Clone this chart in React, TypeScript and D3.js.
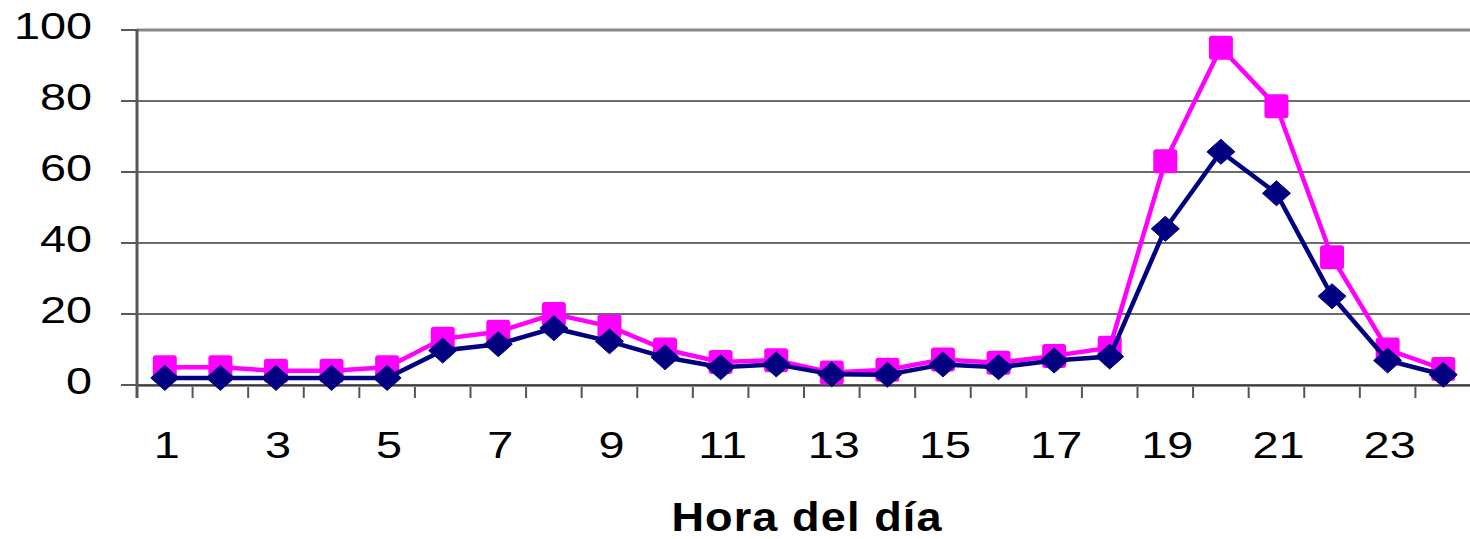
import React from "react";
import * as d3 from "d3";

const hours: number[] = Array.from({ length: 24 }, (_, i) => i + 1);
const seriesPink: number[] = [5, 5, 4, 4, 5, 13, 15, 20, 16.5, 10, 6.5, 7, 3.5, 4.3, 7.2, 6.3, 8.2, 10.5, 63, 95, 78.5, 36, 10, 4.5];
const seriesNavy: number[] = [2, 2, 2, 2, 2, 9.7, 11.5, 16, 12.3, 7.8, 5, 5.8, 3, 2.9, 5.8, 5, 6.9, 8, 44, 65.7, 54, 25, 6.9, 2.9];
const yTicks: number[] = [0, 20, 40, 60, 80, 100];
const xLabels: number[] = [1, 3, 5, 7, 9, 11, 13, 15, 17, 19, 21, 23];
const xTitle = "Hora del día";

const W = 1470;
const H = 539;
const left = 137;
const right = 1471;
const top = 30;
const bottom = 385;
const font = "'Liberation Sans', Arial, sans-serif";
const stretch = 1.3;

export default function App() {
  const x = d3.scaleBand<number>().domain(hours).range([left, right]).padding(0);
  const y = d3.scaleLinear().domain([0, 100]).range([bottom, top]);
  const cx = (h: number) => (x(h) as number) + x.bandwidth() / 2;

  const line = d3
    .line<number>()
    .x((_, i) => cx(hours[i]))
    .y((d) => y(d));

  const boundaries = d3.range(0, 25).map((i) => left + i * x.bandwidth());

  const diamond = (px: number, py: number) => {
    const hw = 14;
    const hh = 12.5;
    return `M${px},${py - hh}L${px + hw},${py}L${px},${py + hh}L${px - hw},${py}Z`;
  };

  return (
    <svg
      width={W}
      height={H}
      style={{ position: "absolute", left: 0, top: 0, background: "#fff" }}
    >
      <rect x={0} y={0} width={W} height={H} fill="#fff" />
      {yTicks
        .filter((t) => t !== 0 && t !== 100)
        .map((t) => (
          <line key={"g" + t} x1={left} x2={right} y1={y(t)} y2={y(t)} stroke="#3a3a3a" strokeWidth={1.5} />
        ))}
      <line x1={left} x2={right} y1={y(100)} y2={y(100)} stroke="#8a8a8a" strokeWidth={3} />
      {yTicks.map((t) => (
        <line key={"yt" + t} x1={121} x2={left} y1={y(t)} y2={y(t)} stroke="#222" strokeWidth={1.5} />
      ))}
      {boundaries.map((b, i) => (
        <line key={"xt" + i} x1={b} x2={b} y1={bottom} y2={bottom + 13} stroke="#555" strokeWidth={2} />
      ))}
      <line x1={left} x2={right} y1={bottom + 1} y2={bottom + 1} stroke="#8a8a8a" strokeWidth={2} />
      <line x1={left} x2={right} y1={bottom} y2={bottom} stroke="#222" strokeWidth={1.5} />
      <line x1={left} x2={left} y1={top - 1} y2={bottom + 13} stroke="#555" strokeWidth={3} />

      {yTicks.map((t) => (
        <text
          key={"yl" + t}
          transform={`translate(92,${y(t) + 8.5}) scale(${stretch},1)`}
          textAnchor="end"
          fontFamily={font}
          fontSize={36}
          fill="#000"
        >
          {t}
        </text>
      ))}
      {xLabels.map((h) => (
        <text
          key={"xl" + h}
          transform={`translate(${cx(h) + 2},458) scale(${stretch},1)`}
          textAnchor="middle"
          fontFamily={font}
          fontSize={36}
          fill="#000"
        >
          {h}
        </text>
      ))}
      <text
        transform={`translate(807,531) scale(1.1,1)`}
        textAnchor="middle"
        fontFamily={font}
        fontSize={41}
        fontWeight="bold"
        letterSpacing={1}
        fill="#000"
      >
        {xTitle}
      </text>

      <path d={line(seriesPink) || ""} fill="none" stroke="#FF00FF" strokeWidth={4.5} />
      {seriesPink.map((v, i) => (
        <rect
          key={"p" + i}
          x={cx(hours[i]) - 12}
          y={y(v) - 12}
          width={24}
          height={24}
          rx={3}
          fill="#FF00FF"
        />
      ))}
      <path d={line(seriesNavy) || ""} fill="none" stroke="#000080" strokeWidth={4.5} />
      {seriesNavy.map((v, i) => (
        <path key={"n" + i} d={diamond(cx(hours[i]), y(v))} fill="#000080" stroke="#000080" strokeWidth={1} strokeLinejoin="round" />
      ))}
    </svg>
  );
}
